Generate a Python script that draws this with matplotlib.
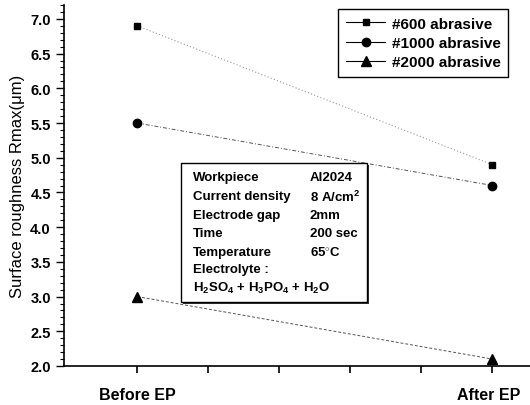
import matplotlib
matplotlib.use('Agg')
import matplotlib.pyplot as plt
import matplotlib.transforms as mtransforms
from matplotlib.patches import Rectangle
from matplotlib.ticker import MultipleLocator, FixedLocator

plt.rcParams['font.family'] = ['Liberation Sans', 'DejaVu Sans']
plt.rcParams['mathtext.fontset'] = 'custom'
plt.rcParams['mathtext.rm'] = 'Liberation Sans:bold'
plt.rcParams['mathtext.it'] = 'Liberation Sans:bold'
plt.rcParams['mathtext.bf'] = 'Liberation Sans:bold'

# data
stages = ['Before EP', 'After EP']
stage_pos = [0, 5]
rough_600 = [6.9, 4.9]
rough_1000 = [5.5, 4.6]
rough_2000 = [3.0, 2.1]

cond_names = ['Workpiece', 'Current density', 'Electrode gap', 'Time', 'Temperature']
cond_values = ['Al2024', r'8 A/cm$^2$', '2mm', '200 sec', r'65$^{\circ}$C']

fig = plt.figure(figsize=(5.3, 4.06), dpi=100)
ax = fig.add_axes([64 / 530, 39 / 406, 466 / 530, 361 / 406])

ax.plot(stage_pos, rough_600, color='#999999', linestyle=(0, (1, 2)), lw=0.8,
        marker='s', ms=4.5, mfc='black', mec='black', label='#600 abrasive')
ax.plot(stage_pos, rough_1000, color='#555555', linestyle=(0, (4, 2, 1, 2)), lw=0.7,
        marker='o', ms=6, mfc='black', mec='black', label='#1000 abrasive')
ax.plot(stage_pos, rough_2000, color='#555555', linestyle=(0, (3, 2)), lw=0.7,
        marker='^', ms=6.5, mfc='black', mec='black', label='#2000 abrasive')

ax.set_xlim(-1.03, 5.53)
ax.set_ylim(2.0, 7.2)
ax.spines['top'].set_visible(False)
ax.spines['right'].set_visible(False)
ax.spines['left'].set_linewidth(1.2)
ax.spines['bottom'].set_linewidth(1.2)

ax.xaxis.set_major_locator(FixedLocator([0, 1, 2, 3, 4, 5]))
ax.set_xticklabels([stages[0], '', '', '', '', stages[1]])
ax.yaxis.set_major_locator(MultipleLocator(0.5))
ax.yaxis.set_minor_locator(MultipleLocator(0.1))
ax.tick_params(axis='x', direction='out', length=5, width=1.2, pad=10, labelsize=11.5)
ax.tick_params(axis='y', which='major', direction='out', length=6, width=1.0, labelsize=10.5)
ax.tick_params(axis='y', which='minor', direction='out', length=3, width=0.8)
for lbl in ax.get_xticklabels() + ax.get_yticklabels():
    lbl.set_fontweight('bold')

# nudge the last x label left so it stays inside the figure
shift = mtransforms.ScaledTranslation(-4 / 100, 0, fig.dpi_scale_trans)
last = ax.get_xticklabels()[-1]
last.set_transform(last.get_transform() + shift)

ax.set_ylabel('Surface roughness Rmax(μm)', fontsize=12, labelpad=4)

leg = ax.legend(loc='upper right', bbox_to_anchor=(0.953, 0.989), borderaxespad=0,
                fancybox=False, edgecolor='black', framealpha=1, handlelength=2.6,
                prop={'weight': 'bold', 'size': 11}, labelspacing=0.35,
                borderpad=0.5, handletextpad=0.4)
leg.get_frame().set_linewidth(1.0)
for h in leg.legend_handles:
    h.set_linestyle('-')
    h.set_color('black')
    h.set_linewidth(0.8)

# conditions box (axes fraction coordinates)
def ax_x(px):
    return (px - 64) / 466

def ax_y(py):
    return (367 - py) / 361

shadow = Rectangle((ax_x(183), ax_y(305)), ax_x(367) - ax_x(181), ax_y(164) - ax_y(303),
                   transform=ax.transAxes, fill=True, facecolor='#333333',
                   edgecolor='none', zorder=4)
ax.add_patch(shadow)
box = Rectangle((ax_x(181), ax_y(303)), ax_x(367) - ax_x(181), ax_y(164) - ax_y(303),
                transform=ax.transAxes, fill=True, facecolor='white',
                edgecolor='black', linewidth=1.0, zorder=5)
ax.add_patch(box)

row_y = [178, 197, 216, 234, 253, 270, 288]
for i, name in enumerate(cond_names):
    ax.text(ax_x(193), ax_y(row_y[i]), name, transform=ax.transAxes, fontsize=9.5,
            fontweight='bold', va='center', ha='left', zorder=6)
    ax.text(ax_x(310), ax_y(row_y[i]), cond_values[i], transform=ax.transAxes, fontsize=9.5,
            fontweight='bold', va='center', ha='left', zorder=6)
ax.text(ax_x(193), ax_y(row_y[5]), 'Electrolyte :', transform=ax.transAxes, fontsize=9.5,
        fontweight='bold', va='center', ha='left', zorder=6)
ax.text(ax_x(193), ax_y(row_y[6]), r'H$_2$SO$_4$ + H$_3$PO$_4$ + H$_2$O',
        transform=ax.transAxes, fontsize=9.5, fontweight='bold', va='center', ha='left', zorder=6)

fig.savefig('out.png', dpi=100)
